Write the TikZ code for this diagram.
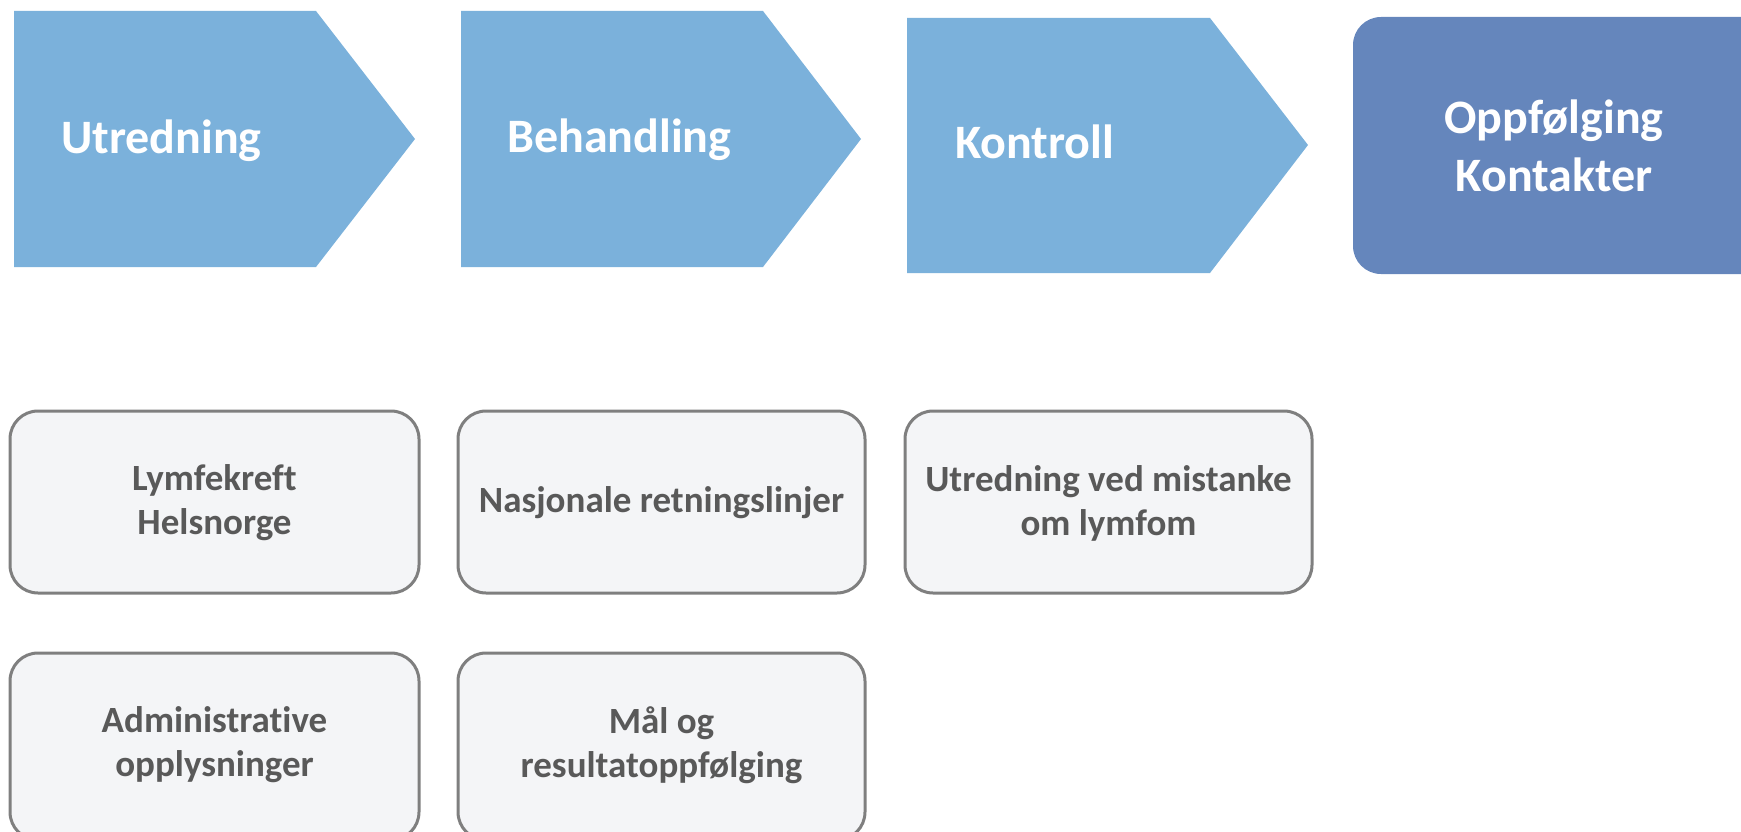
\documentclass[tikz,border=0pt]{standalone}
\usepackage{fontspec}
\setmainfont[Ligatures=NoCommon]{Carlito}
\definecolor{chev}{HTML}{7BB1DB}
\definecolor{dark}{HTML}{6586BC}
\definecolor{boxfill}{HTML}{F4F5F7}
\definecolor{boxline}{HTML}{7F7F7F}
\definecolor{boxtext}{HTML}{595959}
\begin{document}
\begin{tikzpicture}[x=1pt,y=-1pt,
  chevron/.style={fill=chev},
  headtext/.style={text=white,font=\bfseries\fontsize{48}{58}\selectfont,inner sep=0pt},
  infobox/.style={draw=boxline,line width=3pt,fill=boxfill,rounded corners=28pt},
  infotext/.style={text=boxtext,font=\bfseries\fontsize{37}{44}\selectfont,align=center,inner sep=0pt}
]
\useasboundingbox (0,0) rectangle (1741,832);
\clip (0,0) rectangle (1741,832);
% chevrons
\path[chevron] (14,11) -- (316,11) -- (415,139) -- (316,267) -- (14,267) -- cycle;
\path[chevron] (461,11) -- (763,11) -- (861,139) -- (763,267) -- (461,267) -- cycle;
\path[chevron] (907,18) -- (1210,18) -- (1308,145) -- (1210,273) -- (907,273) -- cycle;
\node[headtext,anchor=base west] (t1) at (61,154) {Utredning};
\node[headtext,anchor=base west] (t2) at (507,153) {Behandling};
\node[headtext,anchor=base west] (t3) at (955,159) {Kontroll};
% final box
\path[fill=dark,rounded corners=28pt] (1353,17) rectangle (1770,274);
\node[headtext,align=center] (t4) at (1554,146) {Oppfølging\\Kontakter};
% info boxes
\draw[infobox] (10,411) rectangle (419,593);
\draw[infobox] (458,411) rectangle (865,593);
\draw[infobox] (905,411) rectangle (1312,593);
\draw[infobox] (10,653) rectangle (419,840);
\draw[infobox] (458,653) rectangle (865,840);
\node[infotext] (b1) at (214.5,503) {Lymfekreft\\Helsnorge};
\node[infotext] (b2) at (661.5,503) {Nasjonale retningslinjer};
\node[infotext] (b3) at (1108.5,503) {Utredning ved mistanke\\om lymfom};
\node[infotext] (b4) at (214.5,745) {Administrative\\opplysninger};
\node[infotext] (b5) at (661.5,745) {Mål og\\resultatoppfølging};
\end{tikzpicture}
\end{document}
